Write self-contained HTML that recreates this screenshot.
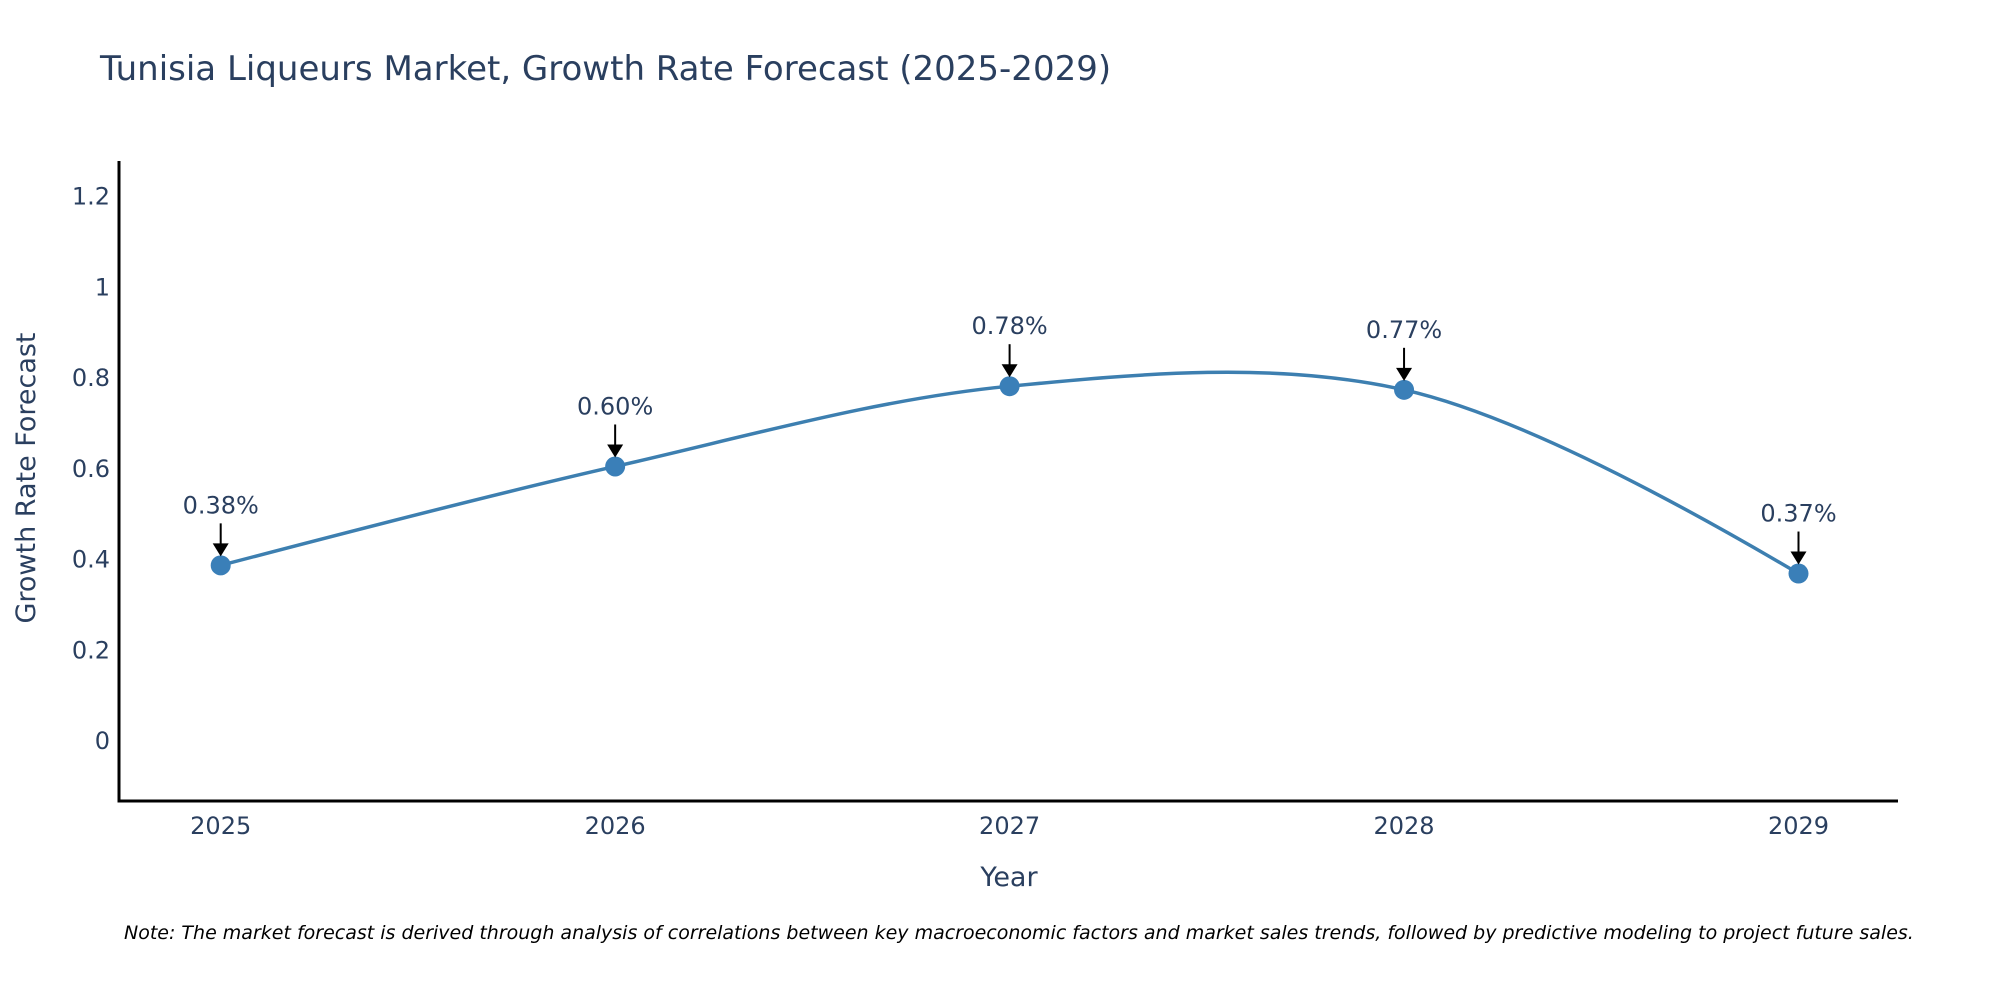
<!DOCTYPE html>
<html><head><meta charset="utf-8"><style>
body{margin:0;background:#fff;overflow:hidden;}
svg{display:block;font-family:"DejaVu Sans","Liberation Sans",sans-serif;}
</style></head><body>
<svg id="chart" width="2000" height="1000" viewBox="0 0 2000 1000">
<text x="100" y="80" font-size="34" fill="#2a3f5f">Tunisia Liqueurs Market, Growth Rate Forecast (2025-2029)</text>
<g id="yticks"></g>
<g id="xticks"></g>
<g id="series"></g>
<g id="annots"></g>
<line x1="119" y1="161" x2="119" y2="802" stroke="#000" stroke-width="3"/>
<line x1="117.5" y1="801" x2="1898" y2="801" stroke="#000" stroke-width="3"/>
<text x="1009" y="886" font-size="27" fill="#2a3f5f" text-anchor="middle">Year</text>
<text transform="translate(35,478) rotate(-90)" font-size="27" fill="#2a3f5f" text-anchor="middle">Growth Rate Forecast</text>
<text x="124" y="939" font-size="19" font-style="italic" fill="#000">Note: The market forecast is derived through analysis of correlations between key macroeconomic factors and market sales trends, followed by predictive modeling to project future sales.</text>
</svg>
<script>
const years = [2025, 2026, 2027, 2028, 2029];
const values = [0.385, 0.603, 0.78, 0.772, 0.367];
const labels = ["0.38%", "0.60%", "0.78%", "0.77%", "0.37%"];
const yTicks = [0, 0.2, 0.4, 0.6, 0.8, 1, 1.2];
const yTickLabels = ["0", "0.2", "0.4", "0.6", "0.8", "1", "1.2"];

const NS = "http://www.w3.org/2000/svg";
function xS(v){ return 220.7 + (v - 2025) * (1798.5 - 220.7) / 4; }
function yS(v){ return 740 - v * 453.6; }
function mk(tag, attrs, parent){ const e=document.createElementNS(NS,tag); for(const k in attrs) e.setAttribute(k, attrs[k]); parent.appendChild(e); return e; }

const yg=document.getElementById('yticks');
yTicks.forEach((t,i)=>{
  const e=mk('text',{x:110,y:yS(t)+9,'font-size':24,fill:'#2a3f5f','text-anchor':'end'},yg);
  
  
  e.textContent=yTickLabels[i];
});
const xg=document.getElementById('xticks');
years.forEach(y=>{
  const e=mk('text',{x:xS(y),y:834,'font-size':24,fill:'#2a3f5f','text-anchor':'middle'},xg);
  
  
  e.textContent=String(y);
});

const pts = years.map((y,i)=>[xS(y), yS(values[i])]);
function tangent(p0,p1,p2,s){
  const d1x=p0[0]-p1[0], d1y=p0[1]-p1[1], d2x=p2[0]-p1[0], d2y=p2[1]-p1[1];
  const d1a=Math.pow(d1x*d1x+d1y*d1y,0.25), d2a=Math.pow(d2x*d2x+d2y*d2y,0.25);
  const nx=(d2a*d2a*d1x-d1a*d1a*d2x)*s, ny=(d2a*d2a*d1y-d1a*d1a*d2y)*s;
  const den1=3*d2a*(d1a+d2a), den2=3*d1a*(d1a+d2a);
  return [[p1[0]+nx/den1,p1[1]+ny/den1],[p1[0]-nx/den2,p1[1]-ny/den2]];
}
const tg=[];
for(let i=1;i<pts.length-1;i++) tg.push(tangent(pts[i-1],pts[i],pts[i+1],1.0));
let d='M'+pts[0]+'Q'+tg[0][0]+' '+pts[1];
for(let i=2;i<pts.length-1;i++) d+='C'+tg[i-2][1]+' '+tg[i-1][0]+' '+pts[i];
d+='Q'+tg[tg.length-1][1]+' '+pts[pts.length-1];
const sg=document.getElementById('series');
const line=mk('path',{d:d,fill:'none',stroke:'#3d7fb0','stroke-width':3.5},sg);


pts.forEach(p=>{
  const c=mk('circle',{cx:p[0],cy:p[1],r:10,fill:'#3a7fb8'},sg);
  
  
});
const ag=document.getElementById('annots');
pts.forEach((p,i)=>{
  const l=mk('line',{x1:p[0],y1:p[1]-42,x2:p[0],y2:p[1]-20,stroke:'#000','stroke-width':2},ag);
  
  
  const h=mk('path',{d:`M${p[0]-8},${p[1]-22}L${p[0]+8},${p[1]-22}L${p[0]},${p[1]-9}Z`,fill:'#000'},ag);
  
  
  const t=mk('text',{x:p[0],y:p[1]-52,'font-size':24,fill:'#2a3f5f','text-anchor':'middle'},ag);
  
  
  t.textContent=labels[i];
});
</script>
</body></html>
